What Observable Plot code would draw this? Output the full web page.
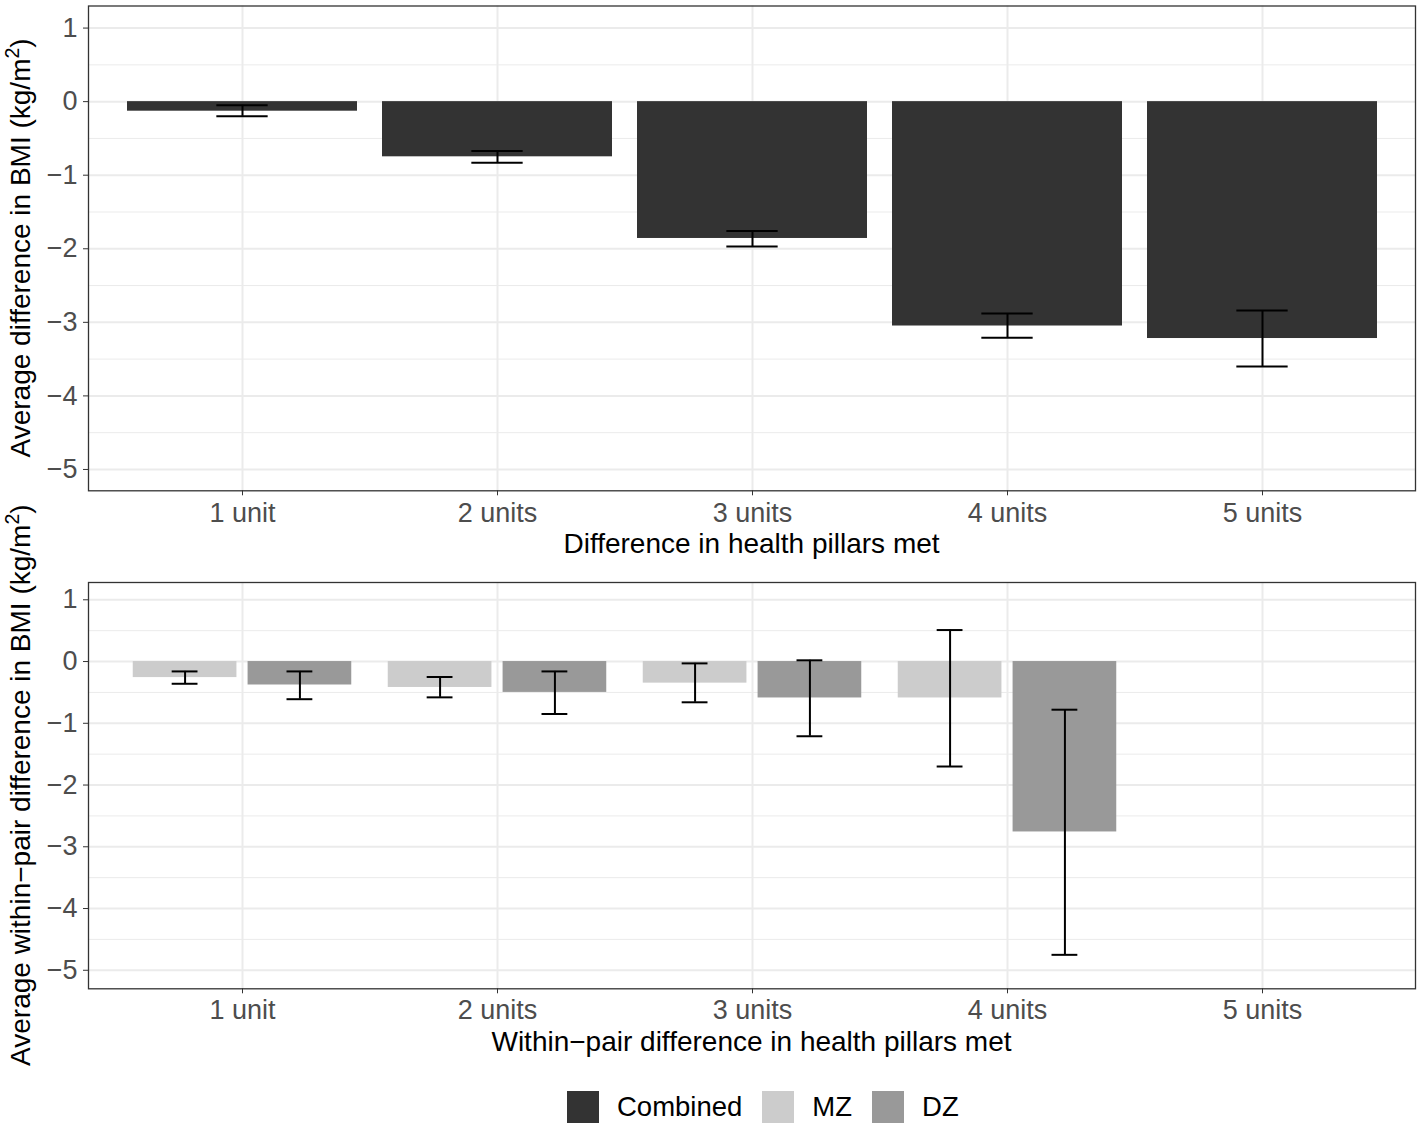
<!DOCTYPE html>
<html>
<head>
<meta charset="utf-8">
<script src="https://cdn.jsdelivr.net/npm/d3@7"></script>
<script src="https://cdn.jsdelivr.net/npm/@observablehq/plot@0.6"></script>
<style>
  body { margin: 0; background: #ffffff; font-family: "Liberation Sans", Arial, Helvetica, sans-serif; }
  #top, #bottom { display: block; line-height: 0; }
  #legend { position: relative; height: 74px; width: 1424px; }
  .lg { position: absolute; top: 21px; display: flex; align-items: center; height: 32px; left: 567px; }
  .sw { width: 32px; height: 32px; margin-right: 18px; }
  .lt { font-size: 27.5px; color: #000; margin-right: 20px; line-height: 32px; }
</style>
</head>
<body>
<div id="top"></div>
<div id="bottom"></div>
<div id="legend"></div>
<script>
// ---------- data ----------
const categories = ["1 unit", "2 units", "3 units", "4 units", "5 units"];

const combinedMean = [-0.13, -0.75, -1.86, -3.05, -3.22];
const combinedLo   = [-0.20, -0.83, -1.97, -3.21, -3.60];
const combinedHi   = [-0.05, -0.67, -1.76, -2.88, -2.84];

const mzMean = [-0.26, -0.42, -0.35, -0.59, null];
const mzLo   = [-0.36, -0.58, -0.66, -1.70, null];
const mzHi   = [-0.16, -0.25, -0.03,  0.51, null];

const dzMean = [-0.38, -0.50, -0.59, -2.76, null];
const dzLo   = [-0.61, -0.85, -1.21, -4.75, null];
const dzHi   = [-0.16, -0.16,  0.02, -0.78, null];

const groups = ["Combined", "MZ", "DZ"];
const groupColors = ["#333333", "#cccccc", "#999999"];

const majorY = [-5, -4, -3, -2, -1, 0, 1];
const minorY = [-4.5, -3.5, -2.5, -1.5, -0.5, 0.5];

const topXTitle = "Difference in health pillars met";
const bottomXTitle = "Within\u2212pair difference in health pillars met";
const topYTitle = "Average difference in BMI (kg/m";
const bottomYTitle = "Average within\u2212pair difference in BMI (kg/m";

// ---------- tables ----------
const combined = categories.map((c, i) => ({cat: c, group: "Combined", mean: combinedMean[i], lo: combinedLo[i], hi: combinedHi[i]}));
const twins = [];
categories.forEach((c, i) => {
  if (mzMean[i] != null) twins.push({cat: c, group: "MZ", mean: mzMean[i], lo: mzLo[i], hi: mzHi[i]});
  if (dzMean[i] != null) twins.push({cat: c, group: "DZ", mean: dzMean[i], lo: dzLo[i], hi: dzHi[i]});
});

// ---------- layout ----------
const W = 1424, ML = 88, MR = 9;
const panelW = W - ML - MR;
const step = panelW / 5.2;
const bw = step * 0.9;
const dodge = step * 0.225;
const barW = step * 0.405;
const font = "'Liberation Sans', Arial, Helvetica, sans-serif";
const fmt = d => d < 0 ? "\u2212" + Math.abs(d) : String(d);

function commonMarks() {
  return [
    Plot.gridY(minorY, {stroke: "#ebebeb", strokeOpacity: 1, strokeWidth: 1}),
    Plot.gridY(majorY, {stroke: "#ebebeb", strokeOpacity: 1, strokeWidth: 2}),
    Plot.gridX(categories, {stroke: "#ebebeb", strokeOpacity: 1, strokeWidth: 2})
  ];
}
function axes(pad) {
  return [
    Plot.frame({stroke: "#333333", strokeWidth: 1.3}),
    Plot.axisY({ticks: majorY, tickSize: 5, tickPadding: 6, tickFormat: fmt, fill: "#4d4d4d", stroke: "#333333", fontSize: 27, label: null}),
    Plot.axisX({ticks: categories, tickSize: 5, tickPadding: pad, fill: "#4d4d4d", stroke: "#333333", fontSize: 27, label: null})
  ];
}
function addTitles(svg, panelTop, panelBottom, xBase, xText, yText) {
  const s = d3.select(svg);
  s.append("text")
    .attr("x", ML + panelW / 2).attr("y", xBase)
    .attr("text-anchor", "middle").attr("font-size", 28).attr("fill", "#000")
    .style("font-family", font)
    .text(xText);
  const t = s.append("text")
    .attr("transform", `translate(30,${(panelTop + panelBottom) / 2}) rotate(-90)`)
    .attr("text-anchor", "middle").attr("font-size", 28).attr("fill", "#000")
    .style("font-family", font);
  t.append("tspan").text(yText);
  t.append("tspan").attr("font-size", 19.5).attr("dy", -11.5).text("2");
  t.append("tspan").attr("dy", 11.5).text(")");
}

// ---------- top chart ----------
const topTop = 5.5, topBottom = 490.3, topH = 560;
const topCapInset = (bw - 51) / 2;
const topChart = Plot.plot({
  width: W, height: topH,
  marginLeft: ML, marginRight: MR, marginTop: topTop, marginBottom: topH - topBottom,
  style: {fontFamily: font, fontSize: "27px", background: "white", overflow: "visible"},
  x: {type: "band", domain: categories, paddingInner: 0.1, paddingOuter: 0.15, axis: null},
  y: {domain: [-5.29, 1.30], axis: null},
  color: {domain: groups, range: groupColors},
  marks: [
    ...commonMarks(),
    Plot.barY(combined, {x: "cat", y1: 0, y2: "mean", fill: "group"}),
    Plot.ruleX(combined, {x: "cat", y1: "lo", y2: "hi", stroke: "black", strokeWidth: 2}),
    Plot.tickY(combined, {x: "cat", y: "lo", stroke: "black", strokeWidth: 2, insetLeft: topCapInset, insetRight: topCapInset}),
    Plot.tickY(combined, {x: "cat", y: "hi", stroke: "black", strokeWidth: 2, insetLeft: topCapInset, insetRight: topCapInset}),
    ...axes(7.5)
  ]
});
document.getElementById("top").appendChild(topChart);
addTitles(topChart, topTop, topBottom, 553, topXTitle, topYTitle);

// ---------- bottom chart ----------
const botH = 510, botTop = 22, botBottom = 988.3 - 560;
const capInset = (bw - 25.5) / 2;
const barInset = (bw - barW) / 2;
const groupMarks = ["MZ", "DZ"].flatMap((g, k) => {
  const dx = k === 0 ? -dodge : dodge;
  const rows = twins.filter(d => d.group === g);
  return [
    Plot.barY(rows, {x: "cat", y1: 0, y2: "mean", fill: "group", insetLeft: barInset, insetRight: barInset, dx}),
    Plot.ruleX(rows, {x: "cat", y1: "lo", y2: "hi", stroke: "black", strokeWidth: 2, dx}),
    Plot.tickY(rows, {x: "cat", y: "lo", stroke: "black", strokeWidth: 2, insetLeft: capInset, insetRight: capInset, dx}),
    Plot.tickY(rows, {x: "cat", y: "hi", stroke: "black", strokeWidth: 2, insetLeft: capInset, insetRight: capInset, dx})
  ];
});
const botChart = Plot.plot({
  width: W, height: botH,
  marginLeft: ML, marginRight: MR, marginTop: botTop, marginBottom: botH - botBottom,
  style: {fontFamily: font, fontSize: "27px", background: "white", overflow: "visible"},
  x: {type: "band", domain: categories, paddingInner: 0.1, paddingOuter: 0.15, axis: null},
  y: {domain: [-5.30, 1.28], axis: null},
  color: {domain: groups, range: groupColors},
  marks: [
    ...commonMarks(),
    ...groupMarks,
    ...axes(6.5)
  ]
});
document.getElementById("bottom").appendChild(botChart);
addTitles(botChart, botTop, botBottom, 491, bottomXTitle, bottomYTitle);

// ---------- legend ----------
const lg = d3.select("#legend").append("div").attr("class", "lg");
groups.forEach((g, i) => {
  lg.append("div").attr("class", "sw").style("background", groupColors[i]);
  lg.append("div").attr("class", "lt").text(g);
});
</script>
</body>
</html>
